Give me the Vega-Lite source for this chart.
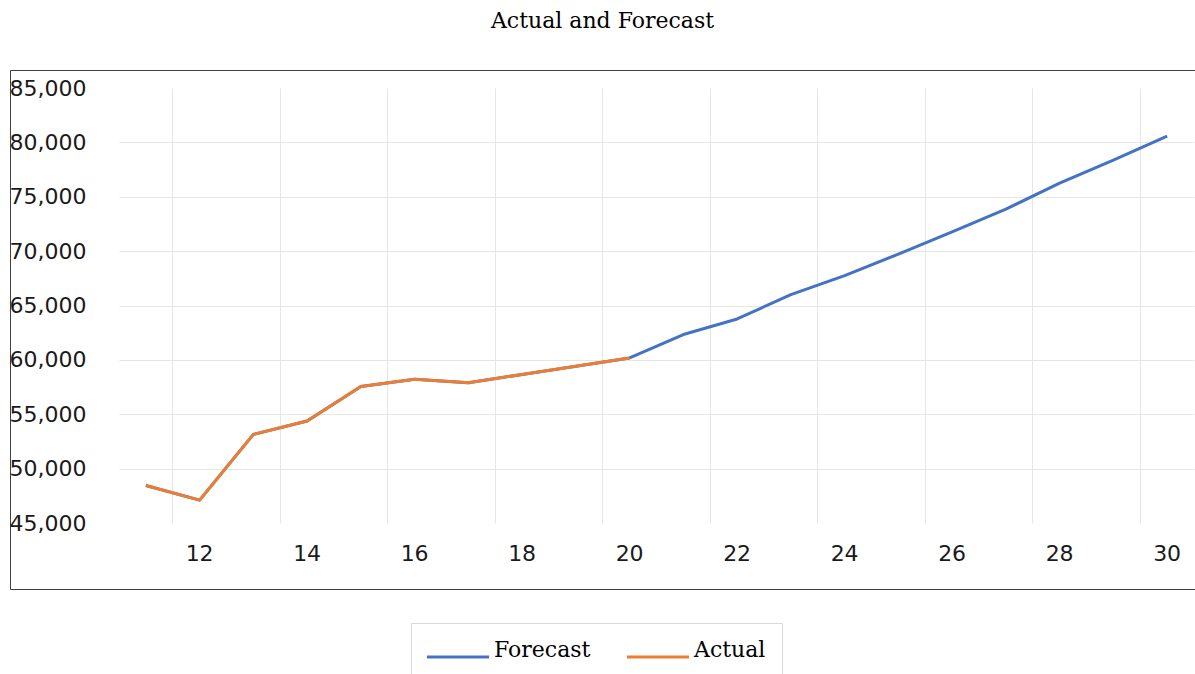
{
  "$schema": "https://vega.github.io/schema/vega-lite/v6.json",
  "width": 1185,
  "height": 519,
  "autosize": {"type": "none"},
  "padding": {"left": 10, "top": 70, "right": 0, "bottom": 85},
  "background": "white",
  "config": {
    "view": {"stroke": "#404040", "strokeWidth": 1},
    "axis": {
      "labelFont": "DejaVu Sans",
      "labelFontSize": 22,
      "labelColor": "#1a1a1a",
      "ticks": false,
      "domain": false,
      "title": null,
      "gridWidth": 1
    }
  },
  "title": {
    "text": "Actual and Forecast",
    "font": "DejaVu Serif",
    "fontSize": 22,
    "fontWeight": "normal",
    "color": "#000000",
    "anchor": "middle",
    "offset": 37
  },
  "datasets": {
    "sales": [
      {"period": 11, "series": "Forecast", "value": 48450},
      {"period": 12, "series": "Forecast", "value": 47100},
      {"period": 13, "series": "Forecast", "value": 53150},
      {"period": 14, "series": "Forecast", "value": 54380},
      {"period": 15, "series": "Forecast", "value": 57550},
      {"period": 16, "series": "Forecast", "value": 58220},
      {"period": 17, "series": "Forecast", "value": 57900},
      {"period": 18, "series": "Forecast", "value": 58660},
      {"period": 19, "series": "Forecast", "value": 59420},
      {"period": 20, "series": "Forecast", "value": 60180},
      {"period": 21, "series": "Forecast", "value": 62330},
      {"period": 22, "series": "Forecast", "value": 63760},
      {"period": 23, "series": "Forecast", "value": 66000},
      {"period": 24, "series": "Forecast", "value": 67740},
      {"period": 25, "series": "Forecast", "value": 69730},
      {"period": 26, "series": "Forecast", "value": 71780},
      {"period": 27, "series": "Forecast", "value": 73860},
      {"period": 28, "series": "Forecast", "value": 76250},
      {"period": 29, "series": "Forecast", "value": 78370},
      {"period": 30, "series": "Forecast", "value": 80570},
      {"period": 11, "series": "Actual", "value": 48450},
      {"period": 12, "series": "Actual", "value": 47100},
      {"period": 13, "series": "Actual", "value": 53150},
      {"period": 14, "series": "Actual", "value": 54380},
      {"period": 15, "series": "Actual", "value": 57550},
      {"period": 16, "series": "Actual", "value": 58220},
      {"period": 17, "series": "Actual", "value": 57900},
      {"period": 18, "series": "Actual", "value": 58660},
      {"period": 19, "series": "Actual", "value": 59420},
      {"period": 20, "series": "Actual", "value": 60180}
    ]
  },
  "data": {"name": "sales"},
  "encoding": {
    "x": {
      "field": "period",
      "type": "ordinal",
      "bandPosition": 0.5,
      "scale": {
        "type": "band",
        "domain": [11, 12, 13, 14, 15, 16, 17, 18, 19, 20, 21, 22, 23, 24, 25, 26, 27, 28, 29, 30],
        "paddingInner": 0,
        "paddingOuter": 0,
        "range": [109, 1184]
      },
      "axis": {
        "orient": "top",
        "values": [12, 14, 16, 18, 20, 22, 24, 26, 28, 30],
        "bandPosition": 0,
        "grid": true,
        "gridColor": "#e6e6e6",
        "labelAngle": 0,
        "labelBaseline": "alphabetic",
        "labelPadding": -490
      }
    },
    "y": {
      "field": "value",
      "type": "quantitative",
      "scale": {"domain": [45000, 85000], "range": [453, 18], "nice": false, "zero": false},
      "axis": {
        "values": [45000, 50000, 55000, 60000, 65000, 70000, 75000, 80000, 85000],
        "format": ",.0f",
        "grid": true,
        "gridColor": {
          "condition": {"test": "datum.value === 45000 || datum.value === 85000", "value": "transparent"},
          "value": "#e6e6e6"
        },
        "labelPadding": 0,
        "offset": -76
      }
    },
    "color": {
      "field": "series",
      "type": "nominal",
      "scale": {"domain": ["Forecast", "Actual"], "range": ["#4472C4", "#ED7D31"]},
      "legend": {
        "orient": "none",
        "legendX": 401,
        "legendY": 553,
        "direction": "horizontal",
        "title": null,
        "symbolType": "M-5,1.1H5",
        "symbolSize": 154,
        "symbolStrokeWidth": 3,
        "symbolOffset": 20,
        "labelFont": "DejaVu Serif",
        "labelFontSize": 22,
        "labelColor": "#000000",
        "labelOffset": 25,
        "labelLimit": 300,
        "columnPadding": 29,
        "gridAlign": "all",
        "padding": 16,
        "strokeColor": "#d9d9d9",
        "fillColor": "white",
        "cornerRadius": 0
      }
    }
  },
  "layer": [
    {
      "transform": [{"filter": "datum.series === 'Forecast'"}],
      "mark": {"type": "line", "strokeWidth": 3, "strokeJoin": "round"}
    },
    {
      "transform": [{"filter": "datum.series === 'Actual'"}],
      "mark": {"type": "line", "strokeWidth": 3, "strokeJoin": "round"}
    }
  ]
}
